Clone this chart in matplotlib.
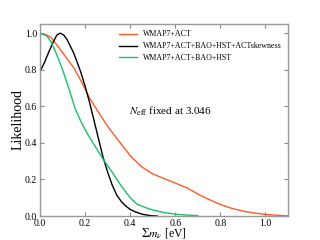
import matplotlib
matplotlib.use("Agg")
import matplotlib.pyplot as plt

plt.rcParams['font.family'] = ['Liberation Serif', 'DejaVu Serif']
plt.rcParams['mathtext.fontset'] = 'stix'

# WMAP7+ACT
x_act = [0.0, 0.03, 0.05, 0.09, 0.12, 0.15, 0.19, 0.22, 0.25, 0.3, 0.35, 0.4, 0.45, 0.5,
         0.55, 0.6, 0.65, 0.7, 0.75, 0.8, 0.85, 0.9, 0.95, 1.0, 1.05, 1.1]
y_act = [1.0, 0.99, 0.975, 0.91, 0.86, 0.81, 0.72, 0.645, 0.585, 0.49, 0.41, 0.33, 0.27, 0.23,
         0.205, 0.18, 0.155, 0.12, 0.09, 0.063, 0.042, 0.027, 0.016, 0.009, 0.004, 0.001]

# WMAP7+ACT+BAO+HST+ACTskewness
x_skew = [0.0, 0.02, 0.04, 0.06, 0.075, 0.09, 0.105, 0.12, 0.15, 0.18, 0.2, 0.22, 0.24, 0.26,
          0.28, 0.3, 0.32, 0.34, 0.36, 0.38, 0.4, 0.42, 0.44, 0.46, 0.48, 0.5, 0.52]
y_skew = [0.79, 0.84, 0.9, 0.955, 0.99, 1.0, 0.99, 0.965, 0.89, 0.79, 0.71, 0.62, 0.52, 0.42,
          0.32, 0.24, 0.17, 0.115, 0.08, 0.055, 0.036, 0.024, 0.015, 0.008, 0.004, 0.001, 0.0]

# WMAP7+ACT+BAO+HST
x_bao = [0.0, 0.03, 0.05, 0.075, 0.1, 0.13, 0.155, 0.18, 0.21, 0.24, 0.28, 0.32, 0.36, 0.4,
         0.43, 0.47, 0.5, 0.55, 0.6, 0.65, 0.7]
y_bao = [1.0, 0.985, 0.95, 0.88, 0.8, 0.69, 0.59, 0.52, 0.45, 0.39, 0.31, 0.24, 0.165, 0.1,
         0.065, 0.045, 0.033, 0.019, 0.01, 0.005, 0.002]

fig = plt.figure(figsize=(3.2, 2.4), dpi=100)
ax = fig.add_axes([0.125, 0.1, 0.775, 0.8])

ax.plot(x_act, y_act, color='#ff5a28', lw=1.0, label='WMAP7+ACT')
ax.plot(x_skew, y_skew, color='black', lw=1.0, label='WMAP7+ACT+BAO+HST+ACTskewness')
ax.plot(x_bao, y_bao, color='#1dbf6a', lw=1.0, label='WMAP7+ACT+BAO+HST')

ax.set_xlim(0, 1.1)
ax.set_ylim(0, 1.05)
ax.set_xticks([0.0, 0.2, 0.4, 0.6, 0.8, 1.0])
ax.set_yticks([0.0, 0.2, 0.4, 0.6, 0.8, 1.0])
ax.tick_params(direction='in', top=True, right=True, labelsize=7, length=3, color='#888888', pad=2)
for s in ax.spines.values():
    s.set_color('#999999')
    s.set_linewidth(1.0)

ax.set_xlabel(r'$\Sigma m_\nu$ [eV]', fontsize=8.5, labelpad=-1)
ax.set_ylabel('Likelihood', fontsize=10, labelpad=0)

ax.legend(loc='upper right', frameon=False, fontsize=5.7, handlelength=2.2,
          borderaxespad=0.4, labelspacing=0.5, bbox_to_anchor=(1.0, 1.0))
ax.text(0.36, 0.53, r'$N_{\rm eff}$ fixed at 3.046', transform=ax.transAxes, fontsize=8)

fig.savefig('out.png', dpi=100)
